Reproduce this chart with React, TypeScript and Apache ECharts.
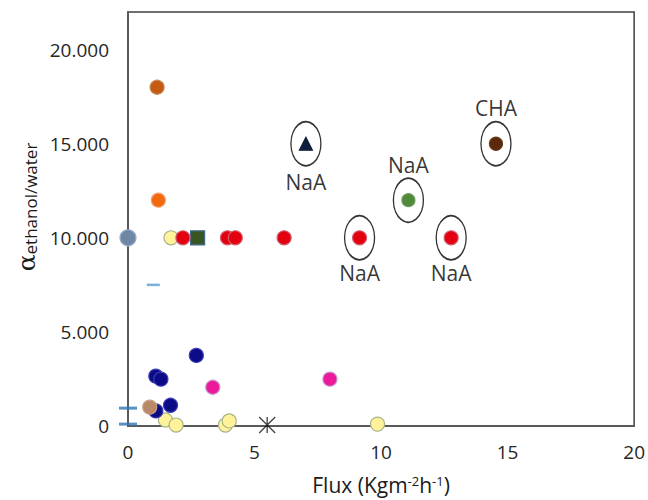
import React, { useEffect, useRef } from "react";
import * as echarts from "echarts";

// ---- data (x: Flux, y: alpha ethanol/water) ----
const brownOrange = [[1.15, 18000]];
const orange = [[1.2, 12000]];
const grayBlue = [[0, 10000]];
const yellow = [[1.7, 10000], [1.48, 320], [1.9, 50], [3.85, 50], [4.0, 270], [9.86, 100]];
const red = [[2.17, 10000], [3.93, 10000], [4.24, 10000], [6.17, 10000], [9.15, 10000], [12.77, 10000]];
const greenSquare = [[2.75, 10000]];
const greenNaA = [[11.08, 12000]];
const triangle = [[7.03, 15000]];
const chaBrown = [[14.54, 15000]];
const navy = [[1.1, 2650], [1.3, 2490], [2.7, 3750], [1.68, 1100], [1.1, 800]];
const magenta = [[3.35, 2060], [7.98, 2490]];
const tan = [[0.86, 1000]];
const blueDash = [[0, 950], [0, 100]];
const lightDash = [[1.0, 7500]];
const asterisk = [[5.5, 50]];

const circled = [[7.03, 15000], [9.15, 10000], [11.08, 12000], [12.77, 10000], [14.54, 15000]];
const circledNames = ["NaA", "NaA", "NaA", "NaA", "CHA"];
const circledLabelPos = ["bottom", "bottom", "top", "bottom", "top"];

const xTicks = [0, 5, 10, 15, 20];
const yTicks = [0, 5000, 10000, 15000, 20000];

const FONT = "'Open Sans', sans-serif";

function fmtY(v: number) {
  if (v === 0) return "0";
  const s = String(Math.round(v));
  return s.replace(/\B(?=(\d{3})+(?!\d))/g, ".");
}

export default function App() {
  const ref = useRef<HTMLDivElement>(null);
  useEffect(() => {
    const chart = echarts.init(ref.current!, null, { renderer: "svg" });
    const dot = (name: string, data: number[][], color: string, border: string, size = 14, symbol = "circle", z = 3) => ({
      type: "scatter",
      name,
      data,
      symbol,
      symbolSize: size,
      z,
      itemStyle: { color, borderColor: border, borderWidth: 1.2, opacity: 1 },
    });
    const option: any = {
      animation: false,
      backgroundColor: "#ffffff",
      grid: {
        left: 128,
        right: 11,
        top: 12,
        bottom: 72,
        show: true,
        borderColor: "#404040",
        borderWidth: 1.5,
      },
      xAxis: {
        type: "value",
        min: 0,
        max: 20,
        interval: 5,
        name: "{a|Flux (Kgm}{s|-2}{a|h}{s|-1}{a|)}",
        nameLocation: "middle",
        nameGap: 48,
        nameTextStyle: {
          rich: {
            a: { fontFamily: FONT, fontSize: 21, color: "#1a1a1a" },
            s: { fontFamily: FONT, fontSize: 13, color: "#1a1a1a", verticalAlign: "top", padding: [0, 0, 8, 0] },
          },
        },
        axisLine: { show: true, onZero: false, lineStyle: { color: "#595959", width: 2 } },
        axisTick: { show: false },
        splitLine: { show: false },
        axisLabel: {
          fontFamily: FONT,
          fontSize: 19,
          color: "#262626",
          margin: 16,
          formatter: (v: number) => (xTicks.includes(v) ? String(v) : ""),
        },
      },
      yAxis: {
        type: "value",
        min: 0,
        max: 22000,
        interval: 5000,
        name: "{a|α}{s|ethanol/water}",
        nameLocation: "middle",
        nameRotate: 90,
        nameGap: 88,
        nameTextStyle: {
          padding: [0, 0, 0, 24],
          rich: {
            a: { fontFamily: "'DejaVu Serif', serif", fontSize: 25, color: "#1a1a1a" },
            s: { fontFamily: FONT, fontSize: 17, color: "#1a1a1a", verticalAlign: "bottom", padding: [8, 0, 0, 0] },
          },
        },
        axisLine: { show: true, lineStyle: { color: "#595959", width: 2 } },
        axisTick: { show: false },
        splitLine: { show: false },
        axisLabel: {
          fontFamily: FONT,
          fontSize: 19,
          color: "#262626",
          margin: 19,
          formatter: (v: number) => (yTicks.includes(v) ? fmtY(v) : ""),
        },
      },
      series: [
        {
          type: "scatter",
          name: "circled",
          data: circled.map((p, i) => ({
            value: p,
            label: {
              show: true,
              formatter: circledNames[i],
              position: circledLabelPos[i],
              distance: i === 0 ? 5 : 2,
              fontFamily: FONT,
              fontSize: 21,
              color: "#000000",
            },
          })),
          symbol: "circle",
          symbolSize: [30, 44],
          z: 2,
          itemStyle: { color: "rgba(255,255,255,0)", borderColor: "#000000", borderWidth: 1.6 },
        },
        dot("brownOrange", brownOrange, "#C55A11", "#C8875A"),
        dot("orange", orange, "#F26A0C", "#F0A070"),
        dot("grayBlue", grayBlue, "#6F87A6", "#9AAECB", 16),
        dot("yellow", yellow, "#FFF29A", "#A7B48A"),
        dot("red", red, "#E3000F", "#D06070", 14, "circle", 4),
        dot("greenSquare", greenSquare, "#375623", "#3E6A8A", 14, "rect"),
        dot("greenNaA", greenNaA, "#4F8A3A", "#6A9A5A", 13),
        dot("triangle", triangle, "#0F1E3A", "#0F1E3A", 13, "triangle"),
        dot("chaBrown", chaBrown, "#5A2A0A", "#6A3A1A", 13),
        dot("navy", navy, "#0B0B88", "#3C3CB0"),
        dot("magenta", magenta, "#EC1A9A", "#C890C8"),
        dot("tan", tan, "#B98866", "#C8A080"),
        {
          type: "scatter",
          name: "blueDash",
          data: blueDash,
          symbol: "rect",
          symbolSize: [18, 3],
          z: 5,
          itemStyle: { color: "#2E75B6" },
        },
        {
          type: "scatter",
          name: "lightDash",
          data: lightDash,
          symbol: "rect",
          symbolSize: [13, 2.5],
          itemStyle: { color: "#5B9BD5" },
        },
        {
          type: "scatter",
          name: "asterisk",
          data: asterisk,
          symbol: "path://M0,0L10,10M10,0L0,10M5,0L5,10",
          symbolSize: 16,
          z: 5,
          itemStyle: { color: "none", borderColor: "#111111", borderWidth: 1.3 },
        },
      ],
    };
    chart.setOption(option);
    return () => chart.dispose();
  }, []);
  return <div ref={ref} style={{ width: 648, height: 500, position: "absolute", left: 0, top: 0 }} />;
}
